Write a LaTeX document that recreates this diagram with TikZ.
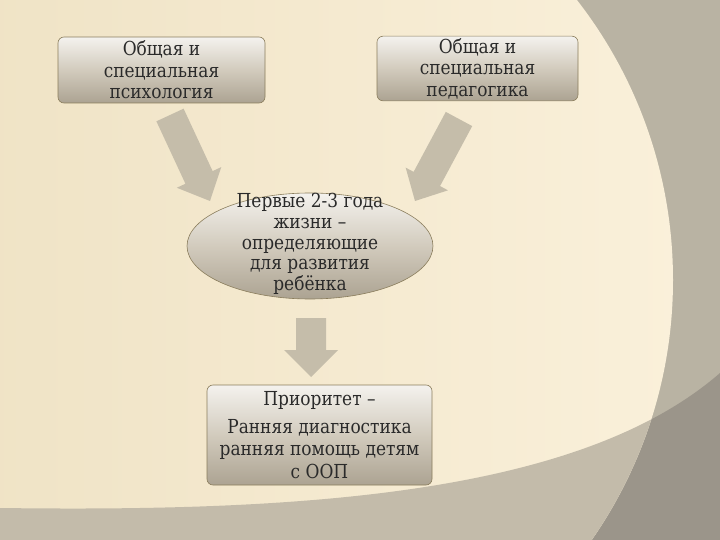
\documentclass[tikz,border=0pt]{standalone}
\usepackage{fontspec}
\setmainfont{DejaVu Serif}[FakeStretch=0.88]
\usetikzlibrary{calc,shapes.geometric}
\definecolor{outgrey}{HTML}{B9B3A3}
\definecolor{banddark}{HTML}{9B958A}
\definecolor{bandlight}{HTML}{C3BBAA}
\definecolor{creamA}{HTML}{ECDFBF}
\definecolor{creamB}{HTML}{FAF0DA}
\definecolor{arrowc}{HTML}{C5BDAA}
\definecolor{boxtop}{HTML}{F4F2EE}
\definecolor{boxmid}{HTML}{D2CBBD}
\definecolor{boxbot}{HTML}{ACA392}
\definecolor{edgec}{HTML}{8A7D5C}
\definecolor{txt}{HTML}{2A2A2A}
\newcommand\blockarrow[5]{%
  \coordinate (hb) at ($(#2)!#5!(#1)$);
  \fill[arrowc] ($(#1)!#3!90:(#2)$) -- ($(hb)!#3!90:(#2)$) -- ($(hb)!#4!90:(#2)$)
    -- (#2) -- ($(hb)!#4!-90:(#2)$) -- ($(hb)!#3!-90:(#2)$) -- ($(#1)!#3!-90:(#2)$) -- cycle;}
\tikzset{
  shadedfill/.style={draw=edgec, line width=0.6pt,
    top color=boxtop, bottom color=boxbot, middle color=boxmid},
  boxnode/.style={shadedfill, rounded corners=6pt,
    align=center, text=txt, inner sep=2pt,
    font=\fontsize{19.3}{21.5}\selectfont},
  ellnode/.style={shadedfill, ellipse, inner sep=0pt},
  plaintext/.style={align=center, text=txt, inner sep=0pt,
    font=\fontsize{19.3}{20.8}\selectfont},
}
\begin{document}
\begin{tikzpicture}[x=1pt,y=-1pt]
\useasboundingbox (0,0) rectangle (720,540);
% background
\fill[outgrey] (0,0) rectangle (720,540);
\fill[banddark] (0,508) .. controls (300,512) and (580,495) .. (720,373) -- (720,540) -- (0,540) -- cycle;
\begin{scope}
  \clip (217,280) circle[radius=456];
  \shade[left color=creamA, right color=creamB] (-240,-180) rectangle (680,740);
  \fill[bandlight] (0,508) .. controls (300,512) and (580,495) .. (720,373) -- (720,540) -- (0,540) -- cycle;
\end{scope}
% arrows
\coordinate (la) at (170,115);
\coordinate (lb) at (210,201);
\coordinate (ra) at (459,119);
\coordinate (rb) at (415,201);
\coordinate (da) at (311,318);
\coordinate (db) at (311,377);
\blockarrow{la}{lb}{15pt}{24.5pt}{26pt}
\blockarrow{ra}{rb}{15pt}{24pt}{25pt}
\blockarrow{da}{db}{15pt}{27pt}{27pt}
% nodes
\node[boxnode, minimum width=207pt, minimum height=66pt] (psy) at (161.5,70)
  {Общая и\\специальная\\психология};
\node[boxnode, minimum width=201pt, minimum height=63pt] (ped) at (477.5,68.5)
  {Общая и\\специальная\\педагогика};
\node[ellnode, minimum width=246pt, minimum height=106pt] (life) at (310,246) {};
\node[plaintext] (lifetxt) at (310,244)
  {Первые 2-3 года\\жизни –\\определяющие\\для развития\\ребёнка};
\node[boxnode, minimum width=225pt, minimum height=100pt,
  font=\fontsize{19.3}{22.5}\selectfont] (prio) at (319.5,435)
  {Приоритет –\\[5pt]Ранняя диагностика\\ранняя помощь детям\\с ООП};
\end{tikzpicture}
\end{document}
